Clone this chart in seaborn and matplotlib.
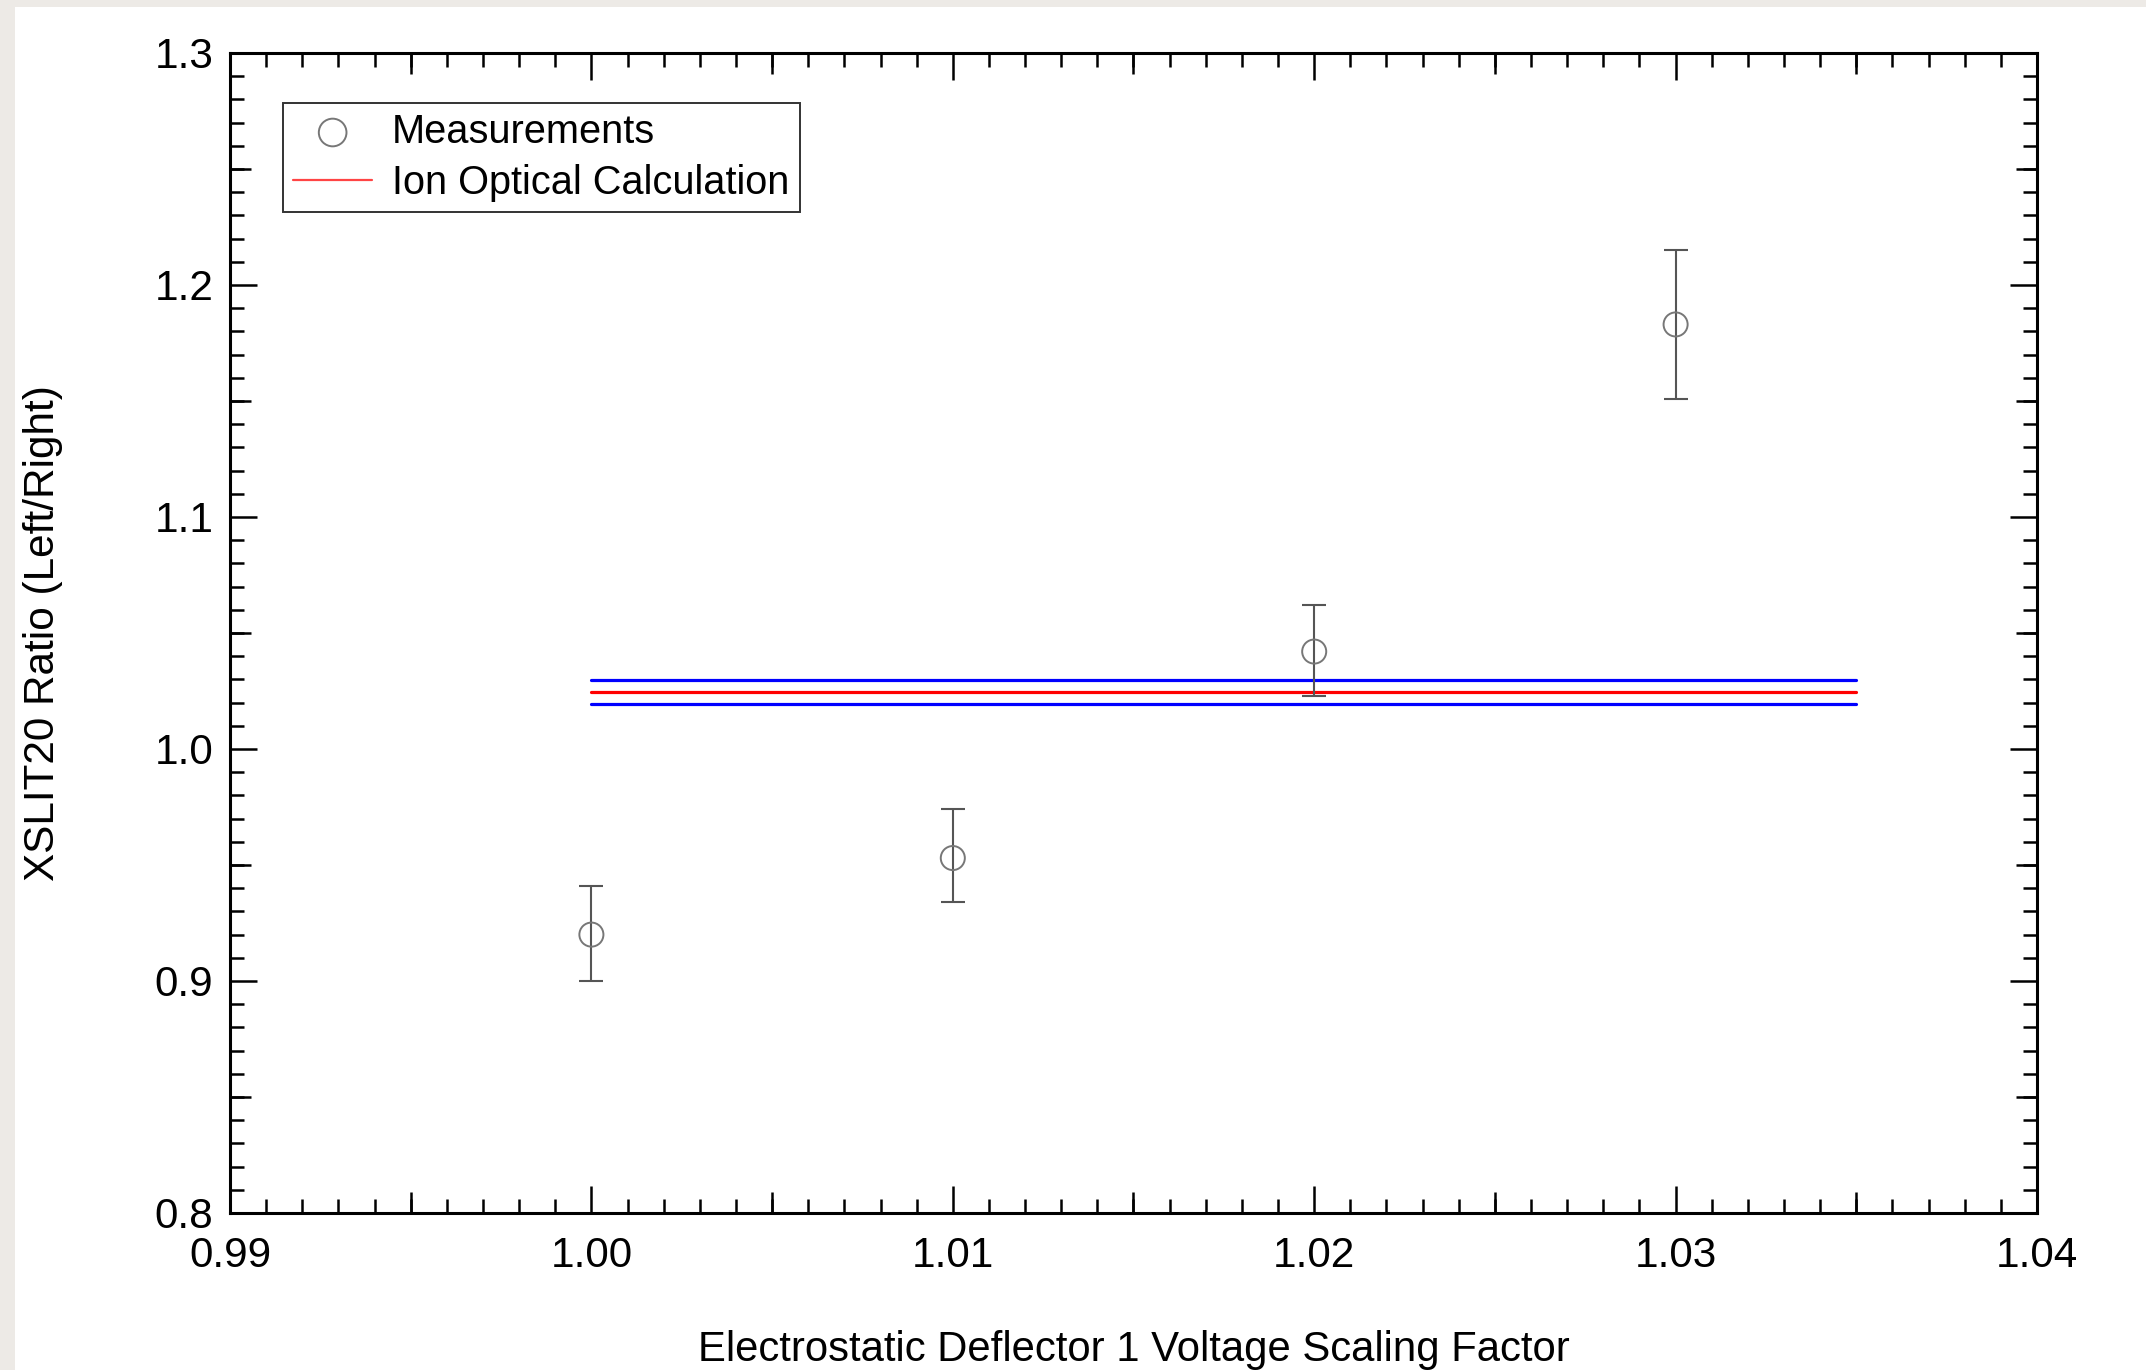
import numpy as np
import pandas as pd
import matplotlib
matplotlib.use("Agg")
import matplotlib.pyplot as plt
from matplotlib.patches import Rectangle
from matplotlib.ticker import MultipleLocator, FormatStrFormatter
import seaborn as sns

# ---------------- data ----------------
x_meas = [1.00, 1.01, 1.02, 1.03]
y_meas = [0.920, 0.953, 1.042, 1.183]
y_low = [0.900, 0.934, 1.023, 1.151]
y_high = [0.941, 0.974, 1.062, 1.215]

calc_x = [1.000, 1.035]
calc_center = 1.0245
calc_upper = 1.0297
calc_lower = 1.0195

x_limits = (0.99, 1.04)
y_limits = (0.8, 1.3)

x_label = "Electrostatic Deflector 1 Voltage Scaling Factor"
y_label = "XSLIT20 Ratio (Left/Right)"
meas_label = "Measurements"
calc_label = "Ion Optical Calculation"

# ---------------- style ----------------
sns.set_theme(style="ticks")
plt.rcParams["font.family"] = ["Liberation Sans", "DejaVu Sans"]
plt.rcParams["axes.linewidth"] = 1.1

W, H, DPI = 2146, 1370, 200
fig = plt.figure(figsize=(W / DPI, H / DPI), dpi=DPI)
fig.patch.set_facecolor("#EDEAE6")
fig.patches.append(Rectangle((15 / W, 0), 1, 1 - 7 / H, transform=fig.transFigure,
                             facecolor="white", edgecolor="none", zorder=-10))

ax = fig.add_axes([230 / W, 1 - 1213 / H, (2037 - 230) / W, (1213 - 53) / H])
ax.set_facecolor("white")

df_meas = pd.DataFrame({"x": x_meas, "y": y_meas, "lo": y_low, "hi": y_high})

# error bars
yerr = np.array([df_meas["y"] - df_meas["lo"], df_meas["hi"] - df_meas["y"]])
ax.errorbar(df_meas["x"], df_meas["y"], yerr=yerr, fmt="none", ecolor="#555555",
            elinewidth=0.75, capsize=4.3, capthick=0.75, zorder=3)

# markers
sns.scatterplot(data=df_meas, x="x", y="y", ax=ax, marker="o", s=75,
                facecolor="none", edgecolor="#777777", linewidth=0.7,
                label=meas_label, zorder=4)

# calc lines
df_c = pd.DataFrame({"x": calc_x, "y": [calc_center] * 2})
df_u = pd.DataFrame({"x": calc_x, "y": [calc_upper] * 2})
df_l = pd.DataFrame({"x": calc_x, "y": [calc_lower] * 2})
sns.lineplot(data=df_u, x="x", y="y", ax=ax, color="#0000FF", linewidth=1.15, zorder=2)
sns.lineplot(data=df_l, x="x", y="y", ax=ax, color="#0000FF", linewidth=1.15, zorder=2)
sns.lineplot(data=df_c, x="x", y="y", ax=ax, color="#FF0000", linewidth=1.15, zorder=2,
             label=calc_label)

ax.set_xlim(*x_limits)
ax.set_ylim(*y_limits)

# ticks
ax.xaxis.set_major_locator(MultipleLocator(0.01))
ax.xaxis.set_minor_locator(MultipleLocator(0.001))
ax.yaxis.set_major_locator(MultipleLocator(0.1))
ax.yaxis.set_minor_locator(MultipleLocator(0.01))
ax.xaxis.set_major_formatter(FormatStrFormatter("%.2f"))
ax.yaxis.set_major_formatter(FormatStrFormatter("%.1f"))
ax.tick_params(which="both", direction="in", top=True, right=True, width=0.9, color="black")
ax.tick_params(which="major", length=9.7, labelsize=15.2, labelcolor="black")
ax.tick_params(which="minor", length=5.0)
ax.tick_params(axis="x", which="major", pad=8.3)
ax.tick_params(axis="y", which="major", pad=6)
for s in ax.spines.values():
    s.set_color("black")
    s.set_linewidth(1.1)

# medium ticks at half-majors, via secondary axes
mid_x = np.arange(0.995, 1.04, 0.01)
mid_y = np.arange(0.85, 1.3, 0.1)
for loc in ("bottom", "top"):
    sec = ax.secondary_xaxis(loc)
    sec.set_xticks(mid_x)
    sec.tick_params(direction="in", length=7.5, width=0.9, color="black",
                    labelbottom=False, labeltop=False)
    for s in sec.spines.values():
        s.set_visible(False)
for loc in ("left", "right"):
    sec = ax.secondary_yaxis(loc)
    sec.set_yticks(mid_y)
    sec.tick_params(direction="in", length=7.5, width=0.9, color="black",
                    labelleft=False, labelright=False)
    for s in sec.spines.values():
        s.set_visible(False)

# labels
ax.set_xlabel(x_label, fontsize=15.1, color="black")
ax.set_ylabel(y_label, fontsize=15.2, color="black")
ax.xaxis.set_label_coords(0.5, -0.101)
ax.yaxis.set_label_coords(-0.0925, 0.5)

# legend
handles, labels = ax.get_legend_handles_labels()
leg = ax.legend(handles, labels, loc="upper left",
                bbox_to_anchor=(283 / W, 1 - 103 / H), bbox_transform=fig.transFigure,
                borderaxespad=0, fontsize=14.3, frameon=True, fancybox=False,
                handlelength=2.0, handletextpad=0.5, labelspacing=0.32,
                borderpad=0.25, markerscale=1.15)
leg.get_frame().set_edgecolor("#333333")
leg.get_frame().set_linewidth(0.7)
leg.get_frame().set_facecolor("white")
leg.get_frame().set_alpha(1)
for t in leg.get_texts():
    t.set_color("black")
for lh in leg.legend_handles:
    if lh.get_label() == calc_label:
        lh.set_color("#FF4444")
        lh.set_linewidth(0.8)

fig.savefig("out.png", dpi=DPI, facecolor=fig.get_facecolor())
